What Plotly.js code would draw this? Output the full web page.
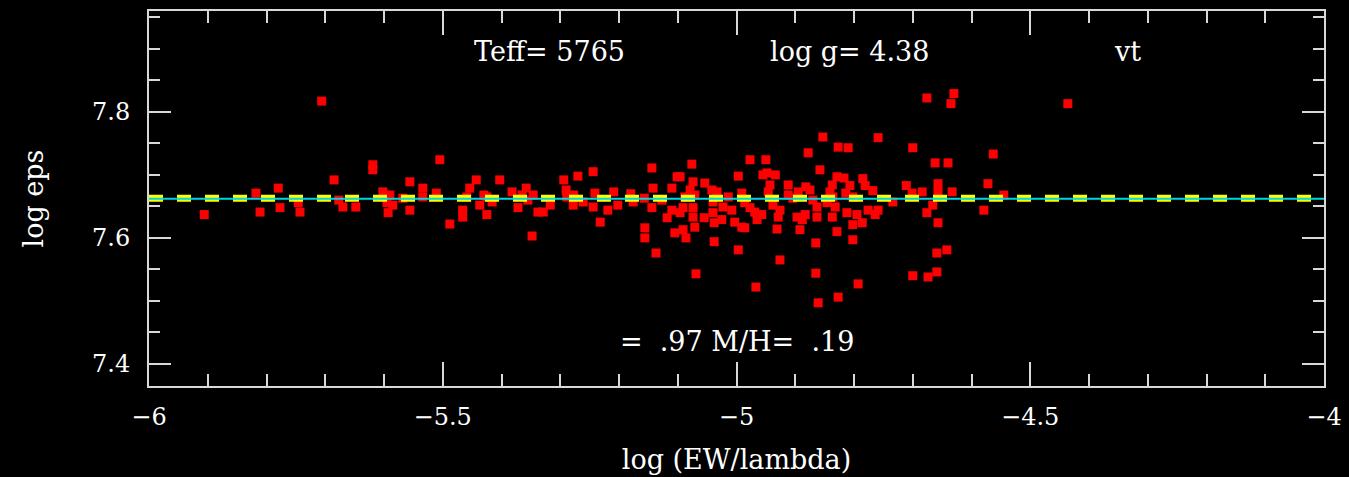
<!DOCTYPE html>
<html>
<head>
<meta charset="utf-8">
<script src="https://cdn.plot.ly/plotly-3.0.1.min.js"></script>
<style>html,body{margin:0;padding:0;background:#000;}#chart{width:1349px;height:477px;}</style>
</head>
<body>
<div id="chart"></div>
<script>
// log(EW/lambda) values of the lines
const logRW = [
-5.906,-5.818,-5.811,-5.780,-5.777,-5.746,-5.743,-5.706,-5.685,-5.677,
-5.670,-5.648,-5.619,-5.619,-5.602,-5.595,-5.590,-5.585,-5.593,-5.568,
-5.556,-5.556,-5.534,-5.534,-5.511,-5.505,-5.488,-5.466,-5.466,-5.454,
-5.443,-5.459,-5.425,-5.437,-5.425,-5.416,-5.430,-5.403,-5.382,-5.372,
-5.365,-5.358,-5.355,-5.346,-5.348,-5.338,
-5.329,-5.317,-5.294,-5.290,-5.289,-5.278,-5.277,-5.270,-5.261,-5.244,
-5.241,-5.244,-5.232,-5.219,-5.209,-5.202,-5.180,-5.176,-5.157,-5.156,
-5.156,-5.144,-5.142,-5.144,-5.137,-5.127,-5.118,-5.110,-5.110,-5.105,
-5.101,
-5.096,-5.074,-5.079,-5.071,-5.088,-5.091,-5.096,-5.074,-5.074,-5.071,
-5.091,-5.086,-5.076,-5.054,-5.055,-5.042,-5.033,-5.040,-5.040,-5.038,
-5.023,-5.025,-5.038,-5.069,-4.997,-4.997,-5.014,-5.008,-5.003,-4.991,
-4.986,-4.991,-4.986,-4.977,-4.969,-4.965,-4.957,-4.977,-4.950,-4.948,
-4.955,-4.934,-4.943,-4.946,-4.967,-4.931,-4.938,-4.926,-4.929,-4.926,
-4.912,-4.912,-4.904,-4.895,-4.897,-4.888,-4.883,-4.892,-4.882,-4.875,
-4.870,-4.863,-4.863,-4.878,-4.858,-4.865,-4.865,-4.861,
-4.853,-4.827,-4.810,-4.759,-4.700,-4.676,-4.630,-4.635,-4.662,-4.640,
-4.829,-4.817,-4.837,-4.807,-4.785,-4.781,-4.768,-4.759,-4.776,-4.764,
-4.841,-4.836,-4.846,-4.832,-4.837,-4.814,-4.802,-4.812,-4.795,-4.802,
-4.786,-4.734,-4.829,-4.802,-4.793,-4.827,-4.711,-4.701,-4.684,-4.676,
-4.666,-4.657,-4.657,-4.633,-4.657,-4.659,-4.642,-4.700,-4.674,-4.659,
-4.436,-4.563,-4.572,-4.545,-4.579
];
// log eps abundances of the lines
const logEps = [
7.637,7.671,7.641,7.679,7.648,7.656,7.641,7.817,7.692,7.660,
7.649,7.649,7.716,7.708,7.673,7.656,7.668,7.652,7.640,7.663,
7.689,7.644,7.679,7.665,7.671,7.724,7.622,7.644,7.633,7.679,
7.692,7.665,7.665,7.652,7.637,7.657,7.668,7.692,7.673,7.648,
7.668,7.679,7.660,7.668,7.603,7.641,
7.641,7.652,7.692,7.676,7.665,7.652,7.668,7.698,7.657,7.705,
7.671,7.649,7.625,7.644,7.673,7.652,7.670,7.657,7.663,7.616,
7.600,7.711,7.679,7.648,7.576,7.660,7.632,7.679,7.644,7.608,
7.697,
7.697,7.689,7.676,7.668,7.665,7.648,7.640,7.648,7.633,7.617,
7.613,7.600,7.717,7.687,7.632,7.676,7.673,7.657,7.640,7.624,
7.649,7.629,7.594,7.543,7.698,7.581,7.665,7.644,7.625,7.617,
7.616,7.671,7.656,7.648,7.641,7.629,7.637,7.724,7.724,7.703,
7.700,7.700,7.684,7.673,7.522,7.614,7.652,7.644,7.633,7.565,
7.684,7.668,7.663,7.673,7.633,7.629,7.637,7.613,7.681,7.676,
7.660,7.649,7.633,7.735,7.708,7.592,7.544,7.497,
7.760,7.744,7.743,7.759,7.743,7.822,7.829,7.813,7.719,7.719,
7.697,7.695,7.684,7.683,7.694,7.683,7.675,7.644,7.644,7.637,
7.673,7.665,7.656,7.649,7.633,7.671,7.665,7.640,7.637,7.621,
7.624,7.657,7.610,7.597,7.527,7.506,7.683,7.671,7.673,7.640,
7.652,7.686,7.673,7.673,7.624,7.576,7.581,7.540,7.538,7.546,
7.813,7.733,7.686,7.668,7.644
];
// mean abundance line and fit line
const lineX = [-6, -4];
const meanY = [7.663, 7.663];
const fitY = [7.662, 7.662];

const annText = ["Teff= 5765", "log g= 4.38", "vt", "=  .97 M/H=  .19"];

const FONT = "DejaVu Serif";
const axisCol = "#d8d8d8";

const traces = [
  {x: logRW, y: logEps, type: "scatter", mode: "markers",
   marker: {symbol: "square", size: 9, color: "#ff0000", line: {width: 0}},
   hoverinfo: "x+y", showlegend: false},
  {x: lineX, y: meanY, type: "scatter", mode: "lines",
   line: {color: "#ffff00", width: 7, dash: "14px,14px"}, showlegend: false},
  {x: lineX, y: fitY, type: "scatter", mode: "lines",
   line: {color: "#00d8e0", width: 2}, showlegend: false}
];

const annFont = {family: FONT, size: 27, color: "#ffffff"};

const layout = {
  width: 1349, height: 477,
  paper_bgcolor: "#000", plot_bgcolor: "#000",
  margin: {l: 149, r: 25, t: 11, b: 91, pad: 0},
  font: {family: FONT, color: "#ffffff", size: 24},
  showlegend: false,
  xaxis: {
    range: [-6, -4], dtick: 0.5, tick0: -6,
    showgrid: false, zeroline: false,
    showline: true, linecolor: axisCol, linewidth: 2, mirror: "ticks",
    ticks: "inside", ticklen: 24, tickwidth: 2, tickcolor: axisCol,
    minor: {dtick: 0.1, ticks: "inside", ticklen: 12, tickwidth: 2, tickcolor: axisCol, showgrid: false},
    tickfont: {family: FONT, size: 24, color: "#ffffff"},
    ticklabelstandoff: 8,
    title: {text: "log (EW/lambda)", font: {family: FONT, size: 27, color: "#ffffff"}, standoff: 20},
    automargin: false
  },
  yaxis: {
    range: [7.365, 7.96], dtick: 0.2, tick0: 7.4,
    showgrid: false, zeroline: false,
    showline: true, linecolor: axisCol, linewidth: 2, mirror: "ticks",
    ticks: "inside", ticklen: 22, tickwidth: 2, tickcolor: axisCol,
    minor: {dtick: 0.05, ticks: "inside", ticklen: 11, tickwidth: 2, tickcolor: axisCol, showgrid: false},
    tickfont: {family: FONT, size: 24, color: "#ffffff"},
    ticklabelstandoff: 12,
    title: {text: "log eps", font: {family: FONT, size: 27, color: "#ffffff"}, standoff: 41},
    automargin: false
  },
  annotations: [
    {text: annText[0], x: -5.319, y: 7.895, xref: "x", yref: "y", showarrow: false, font: annFont},
    {text: annText[1], x: -4.807, y: 7.895, xref: "x", yref: "y", showarrow: false, font: annFont},
    {text: annText[2], x: -4.334, y: 7.895, xref: "x", yref: "y", showarrow: false, font: annFont},
    {text: annText[3], x: -5.0, y: 7.435, xref: "x", yref: "y", showarrow: false, font: annFont}
  ]
};

Plotly.newPlot("chart", traces, layout, {displayModeBar: false, staticPlot: true});
</script>
</body>
</html>
